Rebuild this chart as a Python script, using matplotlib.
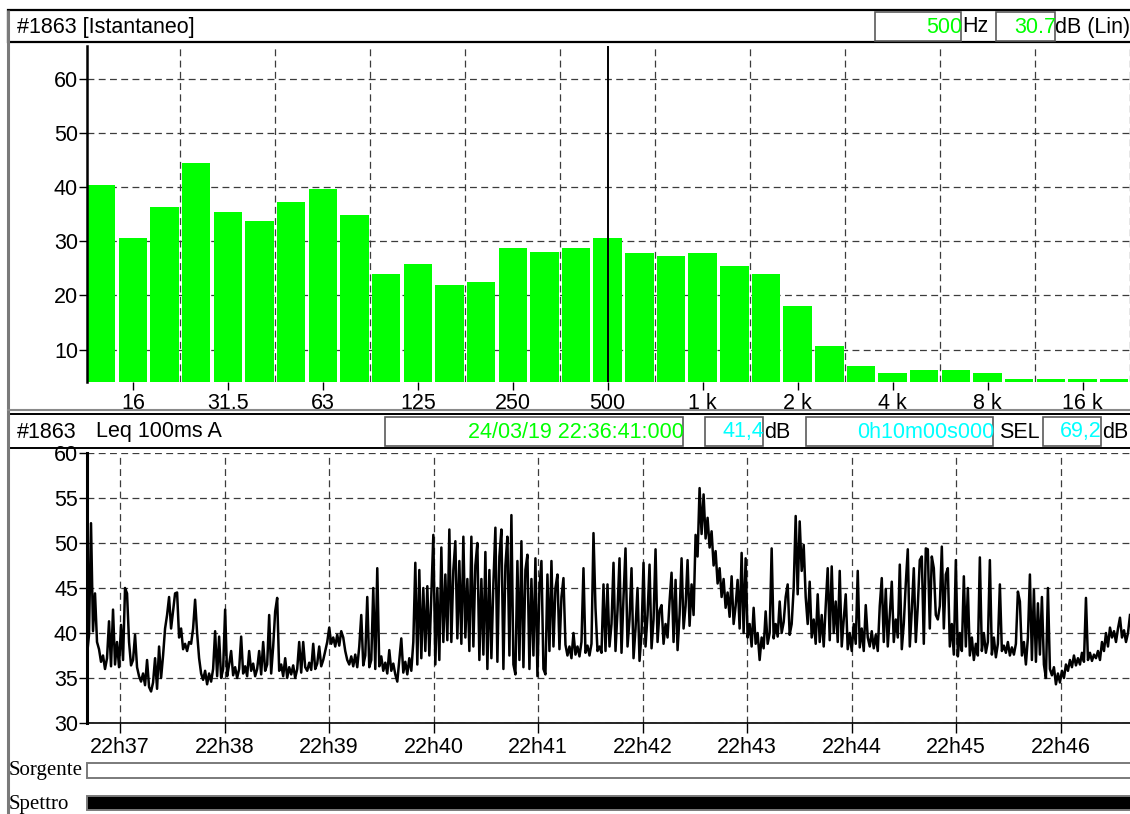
import numpy as np
import pandas as pd
import matplotlib
matplotlib.use("Agg")
import matplotlib.pyplot as plt
from matplotlib.patches import Rectangle
from matplotlib.dates import DateFormatter, MinuteLocator

plt.rcParams["font.family"] = ["Liberation Sans", "DejaVu Sans"]

GREEN = "#00ff00"
CYAN = "#00ffff"
GRID = "#3c3c3c"
FS = 15.5

# ---- spectrum (1/3 octave, instantaneous) ----
freqs = [12.5, 16, 20, 25, 31.5, 40, 50, 63, 80, 100, 125, 160, 200, 250, 315, 400,
         500, 630, 800, 1000, 1250, 1600, 2000, 2500, 3150, 4000, 5000, 6300, 8000,
         10000, 12500, 16000, 20000]
levels = [40.4, 30.7, 36.3, 44.4, 35.4, 33.7, 37.2, 39.6, 34.8, 23.9, 25.9, 21.9, 22.4,
          28.7, 28.0, 28.7, 30.7, 27.8, 27.2, 27.8, 25.4, 23.9, 18.1, 10.7, 6.9, 5.6,
          6.3, 6.3, 5.7, 4.6, 4.6, 4.6, 4.6]
freq_ticks = [16, 31.5, 63, 125, 250, 500, 1000, 2000, 4000, 8000, 16000]
freq_tick_labels = ["16", "31.5", "63", "125", "250", "500", "1 k", "2 k", "4 k", "8 k", "16 k"]
cursor_freq = 500

# ---- Leq 100ms A time history (22:36:41 -> 22:46:41) ----
t_start = pd.Timestamp("2019-03-24 22:36:41")
duration_s = 600
leq_a = [
    # 22:36:41 - 22:39:10
    37.5, 39.8, 52.2, 40.2, 44.4, 39.0, 38.2, 36.8, 37.5, 36.0, 37.2, 41.3, 36.3, 42.6, 36.5, 39.0,
    36.2, 40.9, 37.0, 45.0, 44.4, 39.0, 36.4, 37.0, 39.8, 36.2, 35.2, 34.6, 35.5, 34.2, 37.0, 34.0,
    33.5, 34.5, 37.2, 33.8, 38.5, 35.0, 37.5, 40.5, 42.0, 44.0, 40.5, 42.5, 44.4, 44.5, 39.5, 40.5,
    38.2, 38.8, 38.0, 39.0, 38.8, 40.5, 43.7, 40.0, 37.2, 35.5, 34.8, 35.8, 34.3, 35.5, 34.6, 36.0,
    40.2, 35.2, 39.6, 35.0, 36.0, 42.6, 35.2, 36.5, 38.0, 35.3, 36.2, 35.0, 36.0, 39.6, 35.5, 36.3,
    35.2, 38.0, 35.8, 36.6, 35.2, 36.0, 38.0, 35.4, 39.0, 35.8, 36.5, 42.0, 35.5, 38.5, 42.4, 43.9,
    35.8, 36.5, 35.2, 37.2, 35.0, 36.2, 35.4, 36.4, 35.0, 36.0, 39.0, 35.6, 39.0, 36.2, 35.8, 36.7,
    35.9, 38.8, 36.0, 36.6, 38.5, 36.3, 37.0, 38.0, 39.0, 40.6, 38.8, 39.5, 38.5, 39.8, 38.6, 40.2,
    39.5, 38.0,
    # 22:39:10 - 22:41:39
    37.0, 36.5, 37.4, 36.3, 37.6, 36.2, 38.5, 42.0, 36.4, 37.5, 44.0, 36.2, 37.0, 45.0, 36.0, 47.2,
    36.3, 37.4, 35.8, 36.7, 35.5, 38.1, 35.8, 36.6, 35.4, 34.6, 37.0, 39.4, 35.6, 36.8, 35.4, 37.2,
    35.8, 39.0, 47.8, 36.5, 47.0, 37.2, 45.0, 38.0, 45.2, 37.5, 44.3, 50.9, 36.5, 45.0, 37.0, 49.5,
    39.0, 46.5, 39.2, 51.5, 39.0, 47.0, 50.2, 39.4, 48.0, 38.8, 50.7, 39.5, 46.0, 38.0, 50.7, 38.5,
    47.5, 50.0, 37.0, 46.0, 37.6, 49.0, 36.0, 47.0, 37.2, 45.5, 51.7, 36.8, 48.5, 51.5, 36.0, 47.5,
    50.7, 37.5, 53.1, 36.5, 35.4, 48.0, 37.0, 50.2, 36.2, 47.0, 48.7, 36.0, 46.0, 37.5, 48.3, 35.2,
    45.0, 48.0, 36.0, 35.4, 46.5, 38.0, 48.0, 38.5, 45.0, 46.5, 38.2, 44.0, 46.1, 38.7, 37.5, 38.5,
    37.2, 40.0, 37.6, 38.5, 37.4, 39.0, 47.2, 37.8, 38.6, 37.5, 38.8, 51.1, 42.8, 38.0, 38.5, 37.8,
    45.4, 38.0,
    # 22:41:39 - 22:44:08
    45.4, 38.5, 41.0, 47.8, 38.0, 42.5, 48.3, 37.8, 44.0, 49.4, 38.5, 41.5, 47.2, 37.2, 40.5, 45.0,
    36.9, 40.0, 47.8, 38.5, 42.0, 47.6, 38.3, 41.5, 49.3, 39.0, 42.5, 43.1, 38.8, 41.0, 39.5, 43.5,
    46.7, 39.0, 45.9, 38.1, 42.0, 48.3, 40.5, 43.0, 48.1, 40.8, 45.4, 42.0, 50.9, 48.5, 56.1, 51.0,
    55.4, 50.5, 52.8, 49.5, 51.3, 47.5, 49.1, 45.5, 47.2, 44.0, 46.0, 42.8, 44.5, 41.8, 46.3, 41.0,
    43.0, 45.9, 40.5, 48.9, 40.0, 48.3, 39.5, 41.0, 38.5, 42.8, 38.8, 40.0, 37.0, 39.5, 38.3, 42.4,
    38.8, 40.0, 49.4, 39.4, 41.0, 39.6, 43.5, 40.0, 41.2, 44.0, 45.4, 39.8, 41.0, 45.0, 53.0, 44.3,
    52.4, 46.9, 49.8, 44.0, 41.0, 45.7, 39.5, 41.5, 38.8, 44.3, 39.0, 42.0, 38.5, 43.0, 47.2, 39.2,
    47.4, 40.0, 43.5, 39.0, 46.9, 38.5, 41.5, 44.3, 38.2, 40.0, 38.0, 41.0, 38.8, 46.9, 38.4, 40.5,
    38.0, 43.1,
    # 22:44:08 - 22:46:41
    39.5, 38.5, 40.2, 38.3, 39.8, 38.0, 43.0, 46.1, 39.0, 44.9, 38.5, 42.0, 45.7, 39.0, 41.5, 39.5,
    47.6, 38.2, 41.0, 45.5, 49.3, 38.5, 42.5, 47.2, 39.0, 43.0, 48.1, 48.5, 38.8, 49.4, 49.3, 40.5,
    48.5, 47.2, 42.0, 41.5, 43.0, 49.6, 40.5, 46.5, 47.2, 38.5, 41.0, 37.6, 48.1, 37.4, 40.0, 38.0,
    46.3, 38.5, 45.0, 37.5, 39.5, 37.0, 38.8, 37.5, 48.4, 38.0, 40.0, 37.8, 39.0, 48.1, 37.6, 39.5,
    37.3, 38.8, 45.4, 38.0, 38.6, 37.8, 39.0, 37.5, 38.4, 37.6, 38.8, 44.6, 43.5, 37.5, 39.0, 36.5,
    39.5, 46.5, 37.0, 44.8, 36.8, 43.3, 37.6, 44.0, 36.5, 35.0, 45.0, 36.0, 35.3, 36.2, 34.3, 35.5,
    34.5, 35.8, 35.0, 36.5, 35.8, 37.0, 36.2, 37.5, 36.4, 37.2, 36.5, 37.8, 36.8, 43.9, 37.0, 37.8,
    36.9, 37.6, 37.2, 38.0, 37.0, 39.0, 38.0, 40.0, 38.5, 40.6, 39.5, 40.2, 39.0, 40.5, 41.7, 39.5,
    40.3, 39.0, 40.0, 42.0,
]
leq_total = "41,4"
sel_total = "69,2"

W, H = 1130, 814
fig = plt.figure(figsize=(W / 100, H / 100), dpi=100)
fig.patch.set_facecolor("white")


def px_axes(x0, y0, x1, y1):
    return fig.add_axes([x0 / W, 1 - y1 / H, (x1 - x0) / W, (y1 - y0) / H])


# ---- window frame, headers, status bars (pixel coordinates) ----
frame = fig.add_axes([0, 0, 1, 1], zorder=-1)
frame.set_xlim(0, W)
frame.set_ylim(H, 0)
frame.axis("off")

frame.plot([8, 8], [10, H], color="#7a7a7a", lw=2.2, solid_capstyle="butt")
frame.add_patch(Rectangle((8, 10), W, 32, fc="white", ec="black", lw=1.6))
frame.plot([8, W], [410, 410], color="#8a8a8a", lw=1.5)
frame.add_patch(Rectangle((8, 414), W, 34, fc="white", ec="black", lw=1.4))

hdr = dict(fontsize=FS, va="center")


def value_box(x0, x1, yc, text, color):
    frame.add_patch(Rectangle((x0, yc - 14.5), x1 - x0, 29, fc="white", ec="#5a5a5a", lw=1.2))
    frame.text(x1 + 1, yc + 1, text, color=color, ha="right", **hdr)


frame.text(17, 27, "#1863 [Istantaneo]", ha="left", **hdr)
cursor_level = levels[freqs.index(cursor_freq)]
value_box(875, 961, 26.5, f"{cursor_freq}", GREEN)
frame.text(962, 27, "Hz", ha="left", **hdr)
value_box(996, 1055, 26.5, f"{cursor_level:.1f}", GREEN)
frame.text(1055, 27, "dB (Lin)", ha="left", **hdr)

frame.text(17, 432, "#1863", ha="left", **hdr)
frame.text(96, 432, "Leq 100ms A", ha="left", **hdr)
value_box(385, 683, 431, t_start.strftime("%d/%m/%y %H:%M:%S") + ":000", GREEN)
value_box(705, 763, 431, leq_total, CYAN)
frame.text(764, 432, "dB", ha="left", **hdr)
value_box(806, 993, 431, "0h10m00s000", CYAN)
frame.text(999, 432, "SEL", ha="left", **hdr)
value_box(1043, 1101, 431, sel_total, CYAN)
frame.text(1102, 432, "dB", ha="left", **hdr)

serif = dict(fontsize=15, va="center", ha="left", family=["Liberation Serif", "DejaVu Serif"])
frame.add_patch(Rectangle((87, 763), W, 15, fc="white", ec="#7a7a7a", lw=1.4))
frame.text(9, 771, "Sorgente", **serif)
frame.add_patch(Rectangle((87, 796), W, 14, fc="black", ec="#7a7a7a", lw=1.4))
frame.text(9, 804, "Spettro", **serif)

# ---- top: spectrum bars ----
ax1 = px_axes(87, 46, 1130, 382)
idx = np.arange(len(freqs))
ax1.bar(idx, levels, width=0.9, color=GREEN, edgecolor="none", zorder=2)
ax1.set_xlim(-0.45, 32.15)
ax1.set_ylim(4.0, 66.1)
ax1.set_yticks([10, 20, 30, 40, 50, 60])
ax1.set_xticks([freqs.index(f) for f in freq_ticks])
ax1.set_xticklabels(freq_tick_labels)
ax1.set_xticks(np.arange(2.5, len(freqs), 3), minor=True)
ax1.tick_params(axis="x", which="major", length=6, width=1, pad=2, labelsize=FS)
ax1.tick_params(axis="x", which="minor", length=0)
ax1.tick_params(axis="y", length=6, width=1, pad=0.5, labelsize=FS)
ax1.grid(axis="y", which="major", color=GRID, lw=0.9, dashes=(5.5, 3.5), zorder=1)
ax1.grid(axis="x", which="minor", color=GRID, lw=0.9, dashes=(5.5, 3.5), zorder=1)
ax1.axvline(freqs.index(cursor_freq), color="black", lw=1.4, zorder=3)
for side in ["top", "right", "bottom"]:
    ax1.spines[side].set_visible(False)
ax1.spines["left"].set_linewidth(1.8)
ax1.set_axisbelow(True)

# ---- bottom: Leq time history ----
ax2 = px_axes(87, 453, 87 + 1045, 723)
t = t_start + pd.to_timedelta(np.arange(len(leq_a)) * duration_s / len(leq_a), unit="s")
ax2.plot(t, leq_a, color="black", lw=1.8, zorder=3)
ax2.set_xlim(t_start, t_start + pd.Timedelta(seconds=duration_s))
ax2.set_ylim(30, 60)
ax2.set_yticks([30, 35, 40, 45, 50, 55, 60])
ax2.xaxis.set_major_locator(MinuteLocator())
ax2.xaxis.set_major_formatter(DateFormatter("%Hh%M"))
ax2.tick_params(axis="x", length=7, width=1, pad=3, labelsize=FS)
ax2.tick_params(axis="y", length=6, width=1, pad=0.5, labelsize=FS)
ax2.grid(True, color=GRID, lw=0.9, dashes=(5.5, 3.5), zorder=1)
for side in ["top", "right"]:
    ax2.spines[side].set_visible(False)
ax2.spines["left"].set_linewidth(2.2)
ax2.spines["bottom"].set_linewidth(1.2)
ax2.set_axisbelow(True)

plt.savefig("out.png", dpi=100, facecolor="white")
